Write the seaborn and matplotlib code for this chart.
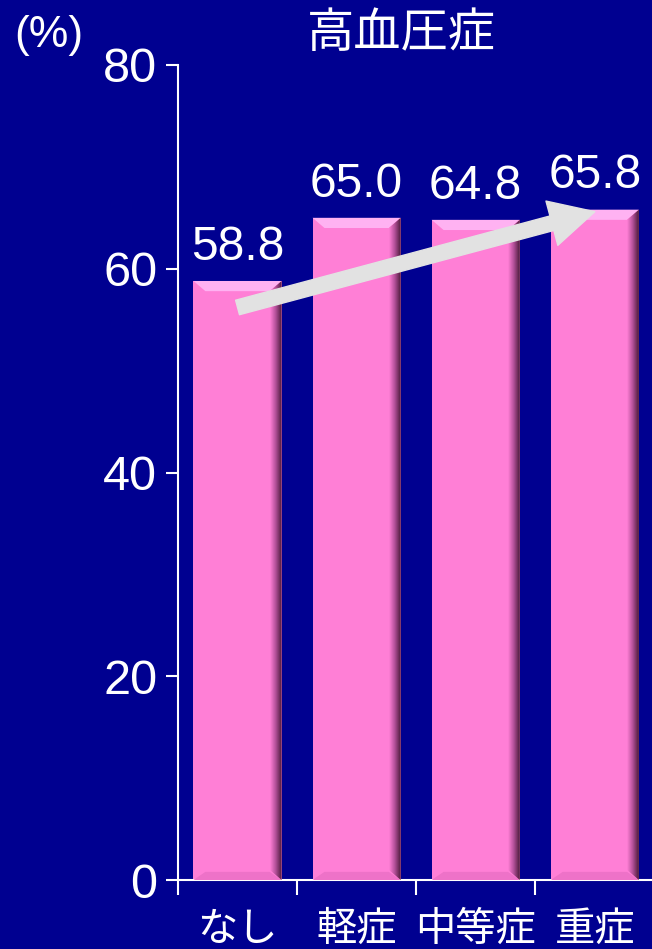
import matplotlib
matplotlib.use('Agg')
import matplotlib.pyplot as plt
import numpy as np
import seaborn as sns
from matplotlib.patches import Polygon, FancyArrowPatch

categories = ['なし', '軽症', '中等症', '重症']
values = [58.8, 65.0, 64.8, 65.8]
value_labels = ['58.8', '65.0', '64.8', '65.8']
y_ticks = [0, 20, 40, 60, 80]
title = '高血圧症'
unit_label = '(%)'

bg = '#000090'
pink = '#FF7FD6'

sns.set_style('dark')
plt.rcParams['font.family'] = ['Liberation Sans', 'Noto Sans CJK JP', 'DejaVu Sans']

fig = plt.figure(figsize=(6.52, 9.49), dpi=100, facecolor=bg)
ax = fig.add_axes([178 / 652, 1 - 880 / 949, 1 - 178 / 652, (880 - 65) / 949])
ax.set_facecolor(bg)

sns.barplot(x=categories, y=values, color=pink, width=0.74, errorbar=None,
            saturation=1, ax=ax, zorder=2)

ax.grid(False)

# bevel look on each bar
bx, by = 0.10, 1.0
cmap = matplotlib.colors.LinearSegmentedColormap.from_list('bev', [pink, '#B04E96', '#4A1A38'])
for bar in ax.patches:
    x, y0 = bar.get_x(), bar.get_y()
    w, h = bar.get_width(), bar.get_height()
    bar.set_edgecolor('none')
    top = y0 + h
    ax.add_patch(Polygon([(x, top), (x + w, top), (x + w - bx, top - by), (x + bx, top - by)],
                         closed=True, facecolor='#FFB2F2', edgecolor='none', zorder=3))
    ax.add_patch(Polygon([(x, y0), (x + w, y0), (x + w - bx, y0 + by * 0.8), (x + bx, y0 + by * 0.8)],
                         closed=True, facecolor='#EE72C8', edgecolor='none', zorder=3))
    right = Polygon([(x + w, top), (x + w, y0), (x + w - bx, y0 + by), (x + w - bx, top - by)],
                    closed=True, facecolor='none', edgecolor='none', zorder=3)
    ax.add_patch(right)
    grad = np.linspace(0, 1, 64).reshape(1, -1)
    im = ax.imshow(grad, extent=[x + w - bx, x + w, y0, top], aspect='auto',
                   cmap=cmap, zorder=3, interpolation='bilinear')
    im.set_clip_path(right)

ax.set_xlim(-0.5, 3.48)
ax.set_ylim(0, 80)
ax.set_aspect('auto')

for i, (v, lab) in enumerate(zip(values, value_labels)):
    ax.text(i, v + 1.1, lab, ha='center', va='bottom', color='white', fontsize=34.5, zorder=5)

arrow = FancyArrowPatch((0.0, 56.2), (3.0, 65.6),
                        arrowstyle='simple,head_length=32,head_width=33,tail_width=10.8',
                        mutation_scale=1, color='#E2E2E2', shrinkA=0, shrinkB=0, zorder=4)
ax.add_patch(arrow)

for side in ['top', 'right']:
    ax.spines[side].set_visible(False)
for side in ['left', 'bottom']:
    ax.spines[side].set_color('white')
    ax.spines[side].set_linewidth(1.5)

ax.set_yticks(y_ticks)
ax.set_yticklabels([str(t) for t in y_ticks])
ax.tick_params(axis='y', colors='white', labelsize=35, length=9, width=1.5, direction='out', pad=6, left=True)

ax.set_xticks(range(len(categories)))
ax.set_xticklabels(categories)
ax.set_xticks([-0.5, 0.5, 1.5, 2.5], minor=True)
ax.tick_params(axis='x', which='major', length=0, colors='white', labelsize=29, pad=22)
ax.tick_params(axis='x', which='minor', length=11, width=1.5, color='white', direction='out', bottom=True)
ax.set_xlabel('')
ax.set_ylabel('')

fig.text(401 / 652, 1 - 35 / 949, title, ha='center', va='center', color='white', fontsize=34)
fig.text(14 / 652, 1 - 35 / 949, unit_label, ha='left', va='center', color='white', fontsize=32)

fig.savefig('out.png', dpi=100, facecolor=bg)
